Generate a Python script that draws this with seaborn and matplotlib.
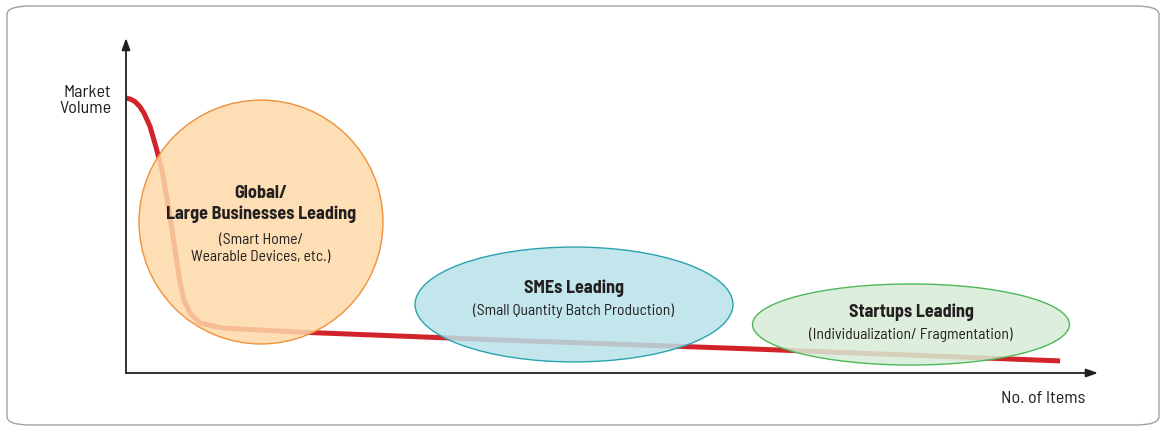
import numpy as np
import pandas as pd
import matplotlib
matplotlib.use('Agg')
import matplotlib.pyplot as plt
import seaborn as sns
from matplotlib.patches import Ellipse, FancyBboxPatch

# long tail curve (No. of Items vs Market Volume, arbitrary units 0-100)
items = [0, 0.5, 0.93, 1.4, 1.85, 2.47, 3.09, 3.70, 4.53, 5.04, 5.56, 5.97, 6.58, 7.61, 9.98, 17.9, 38.5, 64.2, 96.1]
volume = [82.1, 81.7, 81.0, 79.6, 77.6, 73.6, 67.4, 60.6, 46.6, 36.7, 26.9, 21.8, 17.9, 14.9, 13.4, 12.2, 9.85, 7.2, 3.6]

# segments: title, subtitle
titles = ['Global/\nLarge Businesses Leading', 'SMEs Leading', 'Startups Leading']
subtitles = ['(Smart Home/\nWearable Devices, etc.)', '(Small Quantity Batch Production)',
             '(Individualization/ Fragmentation)']

sns.set_style('white')
plt.rcParams['font.family'] = ['Barlow Semi Condensed', 'DejaVu Sans']

fig = plt.figure(figsize=(11.61, 4.28), dpi=100)
# frame
fig.patches.append(FancyBboxPatch((7 / 1161, 3 / 428), 1152 / 1161, 419 / 428,
                                  boxstyle='round,pad=0,rounding_size=0.02',
                                  transform=fig.transFigure, fc='white', ec='#a0a0a0', lw=1,
                                  zorder=-1))

ax = fig.add_axes([126 / 1161, 55 / 428, 972 / 1161, 335 / 428])
ax.set_xlim(0, 100)
ax.set_ylim(0, 100)
ax.axis('off')

df = pd.DataFrame({'items': items, 'volume': volume})
sns.lineplot(data=df, x='items', y='volume', ax=ax, color='#d2232a', lw=3.6,
             solid_capstyle='butt', solid_joinstyle='round', zorder=2)

# axis arrows
arrow = dict(arrowstyle='-|>,head_length=0.7,head_width=0.25', color='#231f20', lw=1.3,
             shrinkA=0, shrinkB=0)
ax.annotate('', xy=(0, 1), xytext=(0, 0), xycoords='axes fraction', arrowprops=arrow)
ax.annotate('', xy=(1, 0), xytext=(0, 0), xycoords='axes fraction', arrowprops=arrow)

# ellipses: center, width, height (data units)
shapes = [((13.89, 45.07), 25.1, 72.8, '#fdd9a8', '#f0913a'),
          ((46.09, 20.45), 32.7, 34.3, '#b8e2e8', '#2aa3b0'),
          ((80.76, 14.48), 32.6, 24.2, '#d8edd6', '#4db85a')]
for (c, w, h, fc, ec) in shapes:
    ax.add_patch(Ellipse(c, w, h, fc=fc, ec='none', alpha=0.85, zorder=3, clip_on=False))
    ax.add_patch(Ellipse(c, w, h, fc='none', ec=ec, lw=1, zorder=4, clip_on=False))

tc = '#231f20'
bw = 700
ax.text(13.89, 50.4, titles[0], ha='center', va='center', fontsize=13, fontweight=bw,
        color=tc, linespacing=1.25, zorder=5)
ax.text(13.89, 37.2, subtitles[0], ha='center', va='center', fontsize=11.2, color=tc,
        linespacing=1.25, zorder=5)
ax.text(46.09, 25.4, titles[1], ha='center', va='center', fontsize=13, fontweight=bw,
        color=tc, zorder=5)
ax.text(46.09, 18.5, subtitles[1], ha='center', va='center', fontsize=11.2, color=tc, zorder=5)
ax.text(80.76, 18.2, titles[2], ha='center', va='center', fontsize=13, fontweight=bw,
        color=tc, zorder=5)
ax.text(80.76, 11.3, subtitles[2], ha='center', va='center', fontsize=11.2, color=tc, zorder=5)

ax.text(-1.5, 81.4, 'Market\nVolume', ha='right', va='center', fontsize=13, color=tc,
        linespacing=1.05)
ax.text(94.4, -7.5, 'No. of Items', ha='center', va='center', fontsize=13, color=tc)

fig.savefig('out.png', dpi=100)
